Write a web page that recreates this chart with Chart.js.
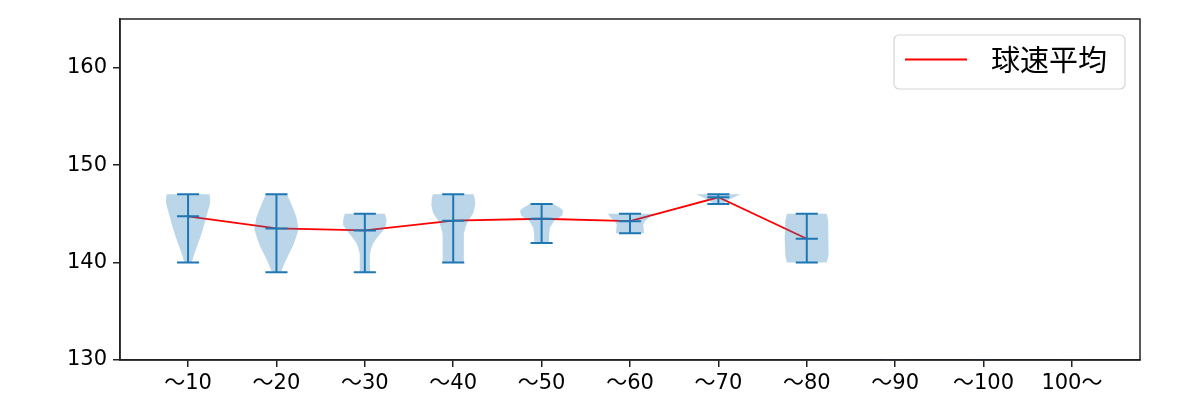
<!DOCTYPE html>
<html>
<head>
<meta charset="utf-8">
<script src="https://cdn.jsdelivr.net/npm/chart.js@4.4.1/dist/chart.umd.min.js"></script>
<style>
  html, body { margin: 0; padding: 0; background: #fff; }
  #wrap { width: 1200px; height: 400px; }
</style>
</head>
<body>
<div id="wrap"><canvas id="violin"></canvas></div>
<script>

/* data */

var labels = ['～10', '～20', '～30', '～40', '～50', '～60', '～70', '～80', '～90', '～100', '100～'];
var positions = [1, 2, 3, 4, 5, 6, 7, 8, 9, 10, 11];

var maxs  = [147, 147, 145, 147, 146, 145, 147, 145];
var mins  = [140, 139, 139, 140, 142, 143, 146, 140];
var means = [144.75, 143.5, 143.3, 144.3, 144.5, 144.25, 146.7, 142.45];

// violin outline: speed level and relative half width (1 = widest)
var profileY = [
	[147, 146.5, 146, 145.3, 144.7, 143.8, 142.9, 142.2, 141.5, 140.8, 140],
	[147, 146, 145.3, 144.6, 143.4, 142.2, 141.5, 140.8, 140, 139.45, 139],
	[145, 144.4, 143.75, 143.3, 142.9, 142.4, 141.9, 141.3, 140.8, 139.8, 139],
	[147, 146.5, 146, 145.1, 144.7, 144.3, 143.6, 142.9, 141.2, 140],
	[146, 145.6, 145.3, 144.8, 144.3, 143.6, 142.8, 142],
	[145, 144.6, 144.26, 143.9, 143],
	[147, 146.5, 146],
	[145, 144.3, 142.5, 140.7, 140]
];
var profileW = [
	[0.97, 1.0, 0.99, 0.9, 0.83, 0.72, 0.6, 0.49, 0.38, 0.27, 0.17],
	[0.48, 0.67, 0.8, 0.91, 1.0, 0.83, 0.7, 0.55, 0.38, 0.28, 0.2],
	[0.91, 0.98, 0.95, 0.83, 0.68, 0.5, 0.36, 0.27, 0.23, 0.23, 0.25],
	[0.92, 0.98, 1.0, 0.91, 0.8, 0.67, 0.55, 0.48, 0.48, 0.48],
	[0.53, 0.85, 0.98, 0.92, 0.57, 0.38, 0.34, 0.33],
	[1.0, 0.87, 0.68, 0.6, 0.64],
	[1.0, 0.51, 0.2],
	[0.9, 0.97, 1.0, 0.97, 0.9]
];

var yTicks = [130, 140, 150, 160];


var blue = '#1f77b4';
var violinFill = 'rgba(31,119,180,0.3)';
var halfWidth = 0.25;
var capHalf = 0.125;
var tickFont = { family: "'DejaVu Sans', 'Noto Sans CJK JP', sans-serif", size: 21 };


/* build datasets */

var datasets = [];

profileY.forEach(function(ys, i) {
	var p = positions[i];
	var pts = [];
	for (var k = 0; k < ys.length; k++) {
		pts.push({ x: p + profileW[i][k] * halfWidth, y: ys[k] });
	}
	for (var k = ys.length - 1; k >= 0; k--) {
		pts.push({ x: p - profileW[i][k] * halfWidth, y: ys[k] });
	}
	pts.push(pts[0]);
	datasets.push({
		label: 'violin' + i,
		data: pts,
		showLine: true,
		fill: 'shape',
		backgroundColor: violinFill,
		borderWidth: 0,
		borderColor: 'rgba(0,0,0,0)',
		pointRadius: 0,
		tension: 0
	});
});

// empty categories leave only a faint stub on the floor
var stubs = [];
for (var i = maxs.length; i < positions.length; i++) {
	stubs.push({ x: positions[i] - capHalf, y: 130 }, { x: positions[i] + capHalf, y: 130 }, { x: positions[i], y: null });
}
datasets.push({
	label: 'stub',
	data: stubs,
	showLine: true,
	spanGaps: false,
	borderColor: violinFill,
	borderWidth: 2,
	pointRadius: 0
});

var bars = [];
maxs.forEach(function(mx, i) {
	var p = positions[i];
	bars.push({ x: p, y: mins[i] }, { x: p, y: mx }, { x: p, y: null });
	bars.push({ x: p - capHalf, y: mx }, { x: p + capHalf, y: mx }, { x: p, y: null });
	bars.push({ x: p - capHalf, y: mins[i] }, { x: p + capHalf, y: mins[i] }, { x: p, y: null });
	bars.push({ x: p - capHalf, y: means[i] }, { x: p + capHalf, y: means[i] }, { x: p, y: null });
});
datasets.push({
	label: 'extrema',
	data: bars,
	showLine: true,
	spanGaps: false,
	borderColor: blue,
	borderWidth: 2,
	pointRadius: 0
});

datasets.push({
	label: '球速平均',
	data: means.map(function(m, i) { return { x: positions[i], y: m }; }),
	showLine: true,
	borderColor: '#ff0000',
	borderWidth: 1.8,
	pointRadius: 0,
	tension: 0
});


/* frame + legend box drawn inside the plot */

var framePlugin = {
	id: 'frame',
	afterDatasetsDraw: function(chart) {
		var ctx = chart.ctx, a = chart.chartArea;
		ctx.save();
		ctx.strokeStyle = '#222';
		ctx.lineWidth = 1.5;
		ctx.strokeRect(a.left, a.top, a.right - a.left, a.bottom - a.top);

		// legend
		var bx = 894, by = 35, bw = 231, bh = 54, r = 5;
		ctx.beginPath();
		ctx.moveTo(bx + r, by);
		ctx.arcTo(bx + bw, by, bx + bw, by + bh, r);
		ctx.arcTo(bx + bw, by + bh, bx, by + bh, r);
		ctx.arcTo(bx, by + bh, bx, by, r);
		ctx.arcTo(bx, by, bx + bw, by, r);
		ctx.closePath();
		ctx.fillStyle = 'rgba(255,255,255,0.8)';
		ctx.fill();
		ctx.strokeStyle = '#d5d5d5';
		ctx.lineWidth = 1.2;
		ctx.stroke();

		ctx.beginPath();
		ctx.moveTo(905, 59.5);
		ctx.lineTo(967, 59.5);
		ctx.strokeStyle = '#ff0000';
		ctx.lineWidth = 1.8;
		ctx.stroke();

		ctx.fillStyle = '#000';
		ctx.font = "29px 'Noto Sans CJK JP'";
		ctx.textBaseline = 'middle';
		ctx.textAlign = 'left';
		ctx.fillText('球速平均', 991, 60);
		ctx.restore();
	}
};


var chart = new Chart(document.getElementById('violin'), {
	type: 'scatter',
	data: { datasets: datasets },
	plugins: [framePlugin],
	options: {
		responsive: true,
		maintainAspectRatio: false,
		animation: false,
		layout: { padding: { top: 19, right: 60, left: 0, bottom: 0 } },
		plugins: {
			legend: { display: false },
			tooltip: { enabled: false }
		},
		scales: {
			x: {
				type: 'linear',
				min: 0.23,
				max: 11.77,
				afterBuildTicks: function(axis) {
					axis.ticks = positions.map(function(p) { return { value: p }; });
				},
				afterFit: function(axis) { axis.height = 40; },
				ticks: {
					autoSkip: false,
					maxRotation: 0,
					padding: 4,
					color: '#000',
					font: tickFont,
					callback: function(v) { return labels[positions.indexOf(v)]; }
				},
				grid: { display: true, drawOnChartArea: false, drawTicks: true, tickLength: 7, color: '#222', lineWidth: 1.5 },
				border: { display: true, color: '#222', width: 1.5 }
			},
			y: {
				min: 130,
				max: 165,
				afterBuildTicks: function(axis) {
					axis.ticks = yTicks.map(function(v) { return { value: v }; });
				},
				afterFit: function(axis) { axis.width = 120; },
				ticks: {
					padding: 6,
					color: '#000',
					font: tickFont
				},
				grid: { display: true, drawOnChartArea: false, drawTicks: true, tickLength: 7, color: '#222', lineWidth: 1.5 },
				border: { display: true, color: '#222', width: 1.5 }
			}
		}
	}
});

</script>
</body>
</html>
